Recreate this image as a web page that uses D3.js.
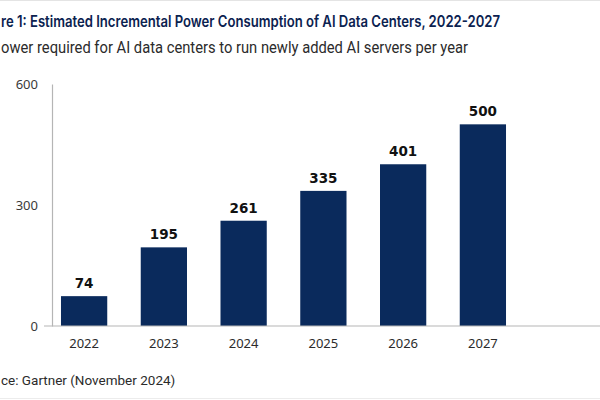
<!DOCTYPE html>
<html>
<head>
<meta charset="utf-8">
<script src="https://cdn.jsdelivr.net/npm/d3@7"></script>
<style>
  html, body { margin: 0; padding: 0; background: #fff; overflow: hidden; }
  svg { display: block; }
</style>
</head>
<body>
<div id="chart"></div>
<script>
// chart data
const years = ["2022", "2023", "2024", "2025", "2026", "2027"]
const power = [74, 195, 261, 335, 401, 500]
const yTicks = [0, 300, 600]

// the reference picture is cropped on its left edge, so only the visible part of each line is kept
const titleText = "re 1: Estimated Incremental Power Consumption of AI Data Centers, 2022-2027"
const subtitleText = "ower required for AI data centers to run newly added AI servers per year"
const sourceText = "ce: Gartner (November 2024)"

const w = 600
const h = 400
const navy = "#0a2a5c"

const svg = d3.select("#chart").append("svg").attr("width", w).attr("height", h)

// thin frame lines top and bottom
svg.append("line").attr("x1", 0).attr("x2", w).attr("y1", 0.5).attr("y2", 0.5).attr("stroke", "#e4e4e4")
svg.append("line").attr("x1", 0).attr("x2", w).attr("y1", h - 1.5).attr("y2", h - 1.5).attr("stroke", "#ececec")

// title + subtitle
svg.append("text")
	.attr("x", 1)
	.attr("y", 27)
	.attr("font-family", "Inter, 'Noto Sans', sans-serif")
	.attr("font-weight", 600)
	.attr("font-size", 15.5)
	.attr("fill", "#0b2250")
	.attr("textLength", 499)
	.attr("lengthAdjust", "spacingAndGlyphs")
	.text(titleText)

svg.append("text")
	.attr("x", 1)
	.attr("y", 53)
	.attr("font-family", "Roboto, 'Noto Sans', sans-serif")
	.attr("font-size", 17)
	.attr("fill", "#2b2b2b")
	.attr("textLength", 467)
	.attr("lengthAdjust", "spacingAndGlyphs")
	.text(subtitleText)

// scales
const x = d3.scaleBand()
	.domain(years)
	.range([44, 523])
	.paddingInner(0.42)
	.paddingOuter(0.213)

const y = d3.scaleLinear()
	.domain([0, 600])
	.range([326, 84])

// bars
svg.selectAll("rect.bar")
	.data(power)
	.enter()
	.append("rect")
	.attr("class", "bar")
	.attr("x", (d, i) => x(years[i]))
	.attr("y", d => y(d))
	.attr("width", x.bandwidth())
	.attr("height", d => y(0) - y(d))
	.attr("fill", navy)

// value labels
svg.selectAll("text.val")
	.data(power)
	.enter()
	.append("text")
	.attr("class", "val")
	.attr("x", (d, i) => x(years[i]) + x.bandwidth() / 2)
	.attr("y", d => y(d) - 8)
	.attr("text-anchor", "middle")
	.attr("font-family", "'DejaVu Sans', Arial, sans-serif")
	.attr("font-weight", "bold")
	.attr("font-size", 13.5)
	.attr("fill", "#111")
	.text(d => d)

// y axis
const yAxis = d3.axisLeft(y).tickValues(yTicks).tickSize(0).tickPadding(14)
const gy = svg.append("g").attr("transform", "translate(52,0)").call(yAxis)
gy.select(".domain").attr("stroke", "#b5b5b5").attr("stroke-width", 1.2)
gy.selectAll("text")
	.attr("font-family", "'Noto Sans', sans-serif")
	.attr("font-size", 13)
	.attr("fill", "#3a3a3a")

// x axis
const xAxis = d3.axisBottom(x).tickSize(0).tickPadding(13)
const gx = svg.append("g").attr("transform", "translate(0,326)").call(xAxis)
gx.select(".domain").remove()
gx.append("line")
	.attr("x1", 44).attr("x2", w)
	.attr("y1", 0).attr("y2", 0)
	.attr("stroke", "#b5b5b5").attr("stroke-width", 1.2)
gx.selectAll("text")
	.attr("font-family", "'Noto Sans', sans-serif")
	.attr("font-size", 13)
	.attr("fill", "#2b2b2b")

// source
svg.append("text")
	.attr("x", 1)
	.attr("y", 385)
	.attr("font-family", "Roboto, 'Noto Sans', sans-serif")
	.attr("font-size", 13.5)
	.attr("fill", "#2b2b2b")
	.text(sourceText)
</script>
</body>
</html>
